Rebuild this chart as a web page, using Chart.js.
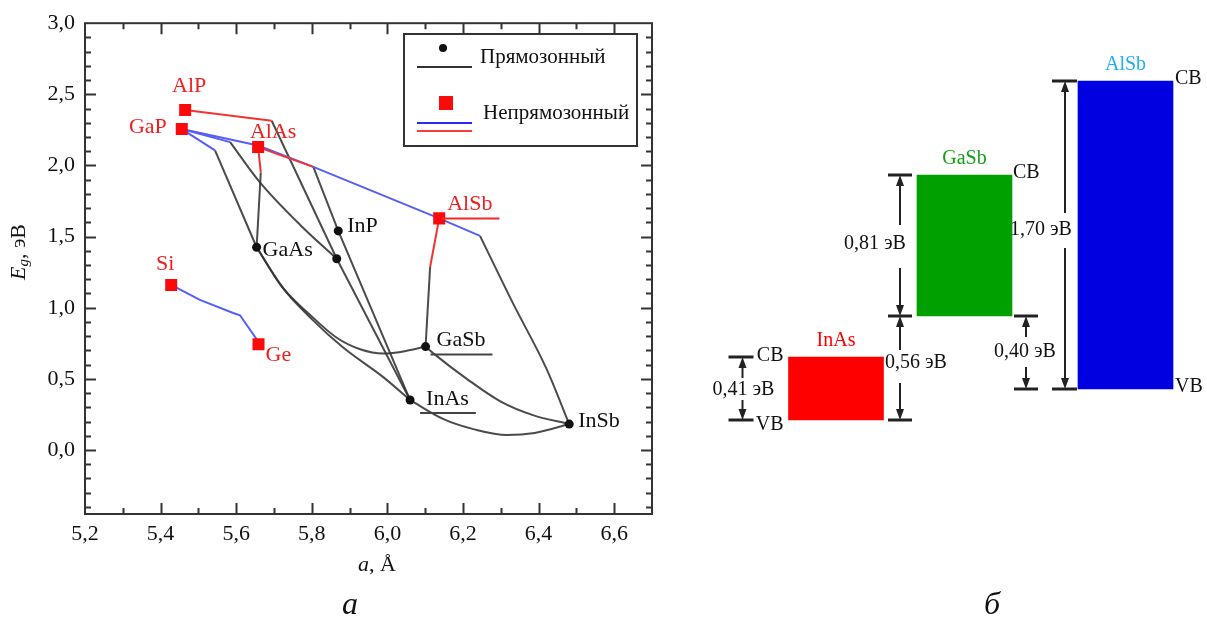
<!DOCTYPE html>
<html>
<head>
<meta charset="utf-8">
<script src="https://cdn.jsdelivr.net/npm/chart.js@4.4.1/dist/chart.umd.min.js"></script>
<style>
  body { margin: 0; background: #fff; width: 1207px; height: 621px; position: relative; overflow: hidden; }
  #gapChart { position: absolute; left: 0; top: 0; }
  #bandChart { position: absolute; left: 700px; top: 0; }
</style>
</head>
<body>
<canvas id="gapChart" width="700" height="621"></canvas>
<canvas id="bandChart" width="507" height="621"></canvas>
<script>
// ===== (а) Eg от постоянной решётки =====
const xTicks = [5.2, 5.4, 5.6, 5.8, 6.0, 6.2, 6.4, 6.6];
const yTicks = [0.0, 0.5, 1.0, 1.5, 2.0, 2.5, 3.0];

// прямозонные (чёрные точки)
const directNames = ['GaAs', 'InP', '', 'GaSb', 'InAs', 'InSb'];
const directA  = [5.654, 5.870, 5.866, 6.101, 6.060, 6.481];
const directEg = [1.425, 1.540, 1.344, 0.727, 0.351, 0.182];

// непрямозонные (красные квадраты)
const indirectNames = ['AlP', 'GaP', 'AlAs', 'AlSb', 'Si', 'Ge'];
const indirectA  = [5.465, 5.456, 5.658, 6.137, 5.428, 5.659];
const indirectEg = [2.390, 2.256, 2.129, 1.628, 1.160, 0.743];

// линии сплавов, пары [a, Eg]
const blueGaPAlSb = [[5.456, 2.256], [5.658, 2.140], [5.804, 1.990], [6.137, 1.628], [6.245, 1.505]];
const blueSiGe    = [[5.428, 1.160], [5.504, 1.055], [5.592, 0.963], [5.610, 0.947], [5.654, 0.778], [5.659, 0.743]];
const blueGaPGaAs = [[5.456, 2.256], [5.544, 2.106]];
const blueGaPInP  = [[5.456, 2.256], [5.584, 2.164]];

const redAlP      = [[5.465, 2.390], [5.694, 2.314]];
const redAlAsAlSb = [[5.658, 2.129], [5.804, 1.990]];
const redAlAsGaAs = [[5.658, 2.129], [5.665, 1.951]];
const redAlSbGaSb = [[6.137, 1.628], [6.113, 1.286]];

const blackAlPInP   = [[5.694, 2.314], [5.866, 1.344]];
const blackAlAsInAs = [[5.804, 1.990], [5.870, 1.540], [6.060, 0.351]];
const blackAlAsGaAs = [[5.665, 1.951], [5.654, 1.425]];
const blackGaPGaAs  = [[5.544, 2.106], [5.654, 1.425]];
const blackGaPInP   = [[5.584, 2.164], [5.660, 1.890], [5.770, 1.580], [5.866, 1.344]];
const blackInPInAs  = [[5.866, 1.344], [6.060, 0.351]];
const blackGaAsGaSb = [[5.654, 1.425], [5.725, 1.136], [5.795, 0.951], [5.866, 0.789], [5.928, 0.708], [5.989, 0.678], [6.051, 0.697], [6.101, 0.727]];
const blackGaAsInAs = [[5.654, 1.425], [5.720, 1.150], [5.800, 0.920], [5.883, 0.720], [5.989, 0.512], [6.060, 0.351]];
const blackAlSbGaSb = [[6.113, 1.286], [6.101, 0.727]];
const blackAlSbInSb = [[6.245, 1.505], [6.332, 1.032], [6.421, 0.570], [6.481, 0.182]];
const blackGaSbInSb = [[6.101, 0.727], [6.125, 0.672], [6.210, 0.500], [6.300, 0.340], [6.385, 0.245], [6.481, 0.182]];
const blackInAsInSb = [[6.060, 0.351], [6.150, 0.215], [6.230, 0.145], [6.316, 0.105], [6.390, 0.120], [6.481, 0.182]];

// ===== (б) зонная схема InAs / GaSb / AlSb (условные единицы схемы) =====
const bandNames = ['InAs', 'GaSb', 'AlSb'];
const bandPos   = [1.36, 2.645, 4.255];
const bandVB    = [2.01, 3.05, 2.32];
const bandCB    = [2.64, 4.46, 5.40];
const gapText   = ['0,41 эВ', '0,81 эВ', '1,70 эВ'];
const offsetText = ['0,56 эВ', '0,40 эВ'];

const FONT = 'Liberation Serif';
const BLACK = 'rgba(50,50,50,0.88)';
const BLUE = 'rgb(85,95,245)';
const RED = 'rgb(245,50,50)';

const pts = arr => arr.map(p => ({ x: p[0], y: p[1] }));
function path(arr, color, curved) {
    return {
        data: pts(arr), showLine: true, borderColor: color, borderWidth: 2,
        pointRadius: 0, tension: curved ? 0.4 : 0,
        cubicInterpolationMode: curved ? 'monotone' : 'default'
    };
}

function drawText(ctx, s, x, y, color, align, size, style) {
    ctx.font = (style || '') + ' ' + (size || 22) + 'px "' + FONT + '"';
    ctx.fillStyle = color || '#111';
    ctx.textAlign = align || 'left';
    ctx.textBaseline = 'middle';
    ctx.fillText(s, x, y);
    return ctx.measureText(s).width;
}

// подписи точек: [dx, dy, выравнивание, подчёркивание]
const labelPlace = {
    AlP: [4, -24, 'center'], GaP: [-15, -2, 'right'], AlAs: [15, -15, 'center'],
    AlSb: [8, -14, 'left', true], Si: [-6, -21, 'center'], Ge: [7, 11, 'left'],
    GaAs: [6, 3, 'left'], InP: [9, -5, 'left'], GaSb: [11, -6, 'left', true],
    InAs: [16, -1, 'left', true], InSb: [9, -3, 'left']
};

const gapDecor = {
    id: 'gapDecor',
    afterDatasetsDraw(chart) {
        const { ctx, chartArea: a, scales: { x, y } } = chart;
        ctx.save();
        // рамка и внутренние засечки
        ctx.strokeStyle = '#333';
        ctx.lineWidth = 2;
        ctx.strokeRect(a.left, a.top, a.right - a.left, a.bottom - a.top);
        ctx.beginPath();
        for (let i = 53; i <= 66; i++) {
            const px = Math.round(x.getPixelForValue(i / 10)) + 0.5;
            const len = i % 2 === 0 ? 11 : 6;
            ctx.moveTo(px, a.bottom); ctx.lineTo(px, a.bottom - len);
            ctx.moveTo(px, a.top); ctx.lineTo(px, a.top + len);
        }
        for (let i = -4; i <= 29; i++) {
            const py = Math.round(y.getPixelForValue(i / 10)) + 0.5;
            const len = i % 5 === 0 ? 11 : 6;
            ctx.moveTo(a.left, py); ctx.lineTo(a.left + len, py);
            ctx.moveTo(a.right, py); ctx.lineTo(a.right - len, py);
        }
        ctx.stroke();

        // подписи соединений
        const put = (name, a0, e0, color) => {
            const p = labelPlace[name];
            if (!p) return;
            const px = x.getPixelForValue(a0) + p[0];
            const py = y.getPixelForValue(e0) + p[1];
            const w = drawText(ctx, name, px, py, color, p[2], 22);
            if (p[3]) {
                const left = p[2] === 'left' ? px : px - w / 2;
                ctx.strokeStyle = color === '#111' ? '#444' : 'rgb(240,40,40)';
                ctx.lineWidth = 2;
                ctx.beginPath();
                ctx.moveTo(left - 6, py + 14); ctx.lineTo(left + w + 7, py + 14);
                ctx.stroke();
            }
        };
        directNames.forEach((n, i) => put(n, directA[i], directEg[i], '#111'));
        indirectNames.forEach((n, i) => put(n, indirectA[i], indirectEg[i], 'rgb(240,30,30)'));

        // легенда
        ctx.strokeStyle = '#333';
        ctx.lineWidth = 2;
        ctx.strokeRect(404, 34, 233, 112);
        ctx.fillStyle = '#111';
        ctx.beginPath(); ctx.arc(443, 48, 4, 0, Math.PI * 2); ctx.fill();
        ctx.strokeStyle = '#333';
        ctx.beginPath(); ctx.moveTo(417, 67); ctx.lineTo(472, 67); ctx.stroke();
        drawText(ctx, 'Прямозонный', 480, 57, '#111', 'left', 21);
        ctx.fillStyle = 'rgb(250,10,10)';
        ctx.fillRect(439, 96, 14, 14);
        ctx.strokeStyle = 'rgb(40,40,250)';
        ctx.beginPath(); ctx.moveTo(417, 123); ctx.lineTo(472, 123); ctx.stroke();
        ctx.strokeStyle = 'rgb(250,60,60)';
        ctx.beginPath(); ctx.moveTo(417, 131); ctx.lineTo(472, 131); ctx.stroke();
        drawText(ctx, 'Непрямозонный', 483, 113, '#111', 'left', 21);

        // подписи осей
        let w1 = drawText(ctx, 'a', 0, -100, '#111', 'left', 22, 'italic');
        ctx.font = '22px "' + FONT + '"';
        let w2 = ctx.measureText(', Å').width;
        let x0 = 377 - (w1 + w2) / 2;
        drawText(ctx, 'a', x0, 565, '#111', 'left', 22, 'italic');
        drawText(ctx, ', Å', x0 + w1, 565, '#111', 'left', 22);

        ctx.translate(19, 252);
        ctx.rotate(-Math.PI / 2);
        ctx.font = 'italic 22px "' + FONT + '"';
        const wE = ctx.measureText('E').width;
        ctx.font = 'italic 15px "' + FONT + '"';
        const wg = ctx.measureText('g').width;
        ctx.font = '22px "' + FONT + '"';
        const wR = ctx.measureText(', эВ').width;
        x0 = -(wE + wg + wR) / 2;
        drawText(ctx, 'E', x0, 0, '#111', 'left', 22, 'italic');
        drawText(ctx, 'g', x0 + wE, 5, '#111', 'left', 15, 'italic');
        drawText(ctx, ', эВ', x0 + wE + wg, 0, '#111', 'left', 22);
        ctx.restore();

        ctx.save();
        drawText(ctx, 'а', 350, 606, '#111', 'center', 32, 'italic');
        ctx.restore();
    }
};

const tickFont = { family: FONT, size: 22 };
const fmt = v => Number(v).toFixed(1).replace('.', ',');

new Chart(document.getElementById('gapChart'), {
    type: 'scatter',
    data: {
        datasets: [
            {
                data: indirectA.map((a, i) => ({ x: a, y: indirectEg[i] })),
                pointStyle: 'rect', pointRadius: 8.5, pointBackgroundColor: 'rgb(250,10,10)',
                pointBorderWidth: 0, showLine: false
            },
            {
                data: directA.map((a, i) => ({ x: a, y: directEg[i] })),
                pointStyle: 'circle', pointRadius: 4.5, pointBackgroundColor: '#111',
                pointBorderWidth: 0, showLine: false
            },
            path(redAlP, RED),
            path(redAlAsAlSb, RED),
            path(redAlAsGaAs, RED),
            path(redAlSbGaSb, RED),
            path(blueGaPAlSb, BLUE),
            path(blueSiGe, BLUE),
            path(blueGaPGaAs, BLUE),
            path(blueGaPInP, BLUE),
            path(blackAlPInP, BLACK),
            path(blackAlAsInAs, BLACK),
            path(blackAlAsGaAs, BLACK),
            path(blackGaPGaAs, BLACK),
            path(blackGaPInP, BLACK, true),
            path(blackInPInAs, BLACK),
            path(blackGaAsGaSb, BLACK, true),
            path(blackGaAsInAs, BLACK, true),
            path(blackAlSbGaSb, BLACK),
            path(blackAlSbInSb, BLACK, true),
            path(blackGaSbInSb, BLACK, true),
            path(blackInAsInSb, BLACK, true)
        ]
    },
    options: {
        responsive: false,
        animation: false,
        layout: { padding: { top: 16, right: 48, left: 0, bottom: 0 } },
        plugins: { legend: { display: false }, tooltip: { enabled: false } },
        scales: {
            x: {
                type: 'linear', min: 5.2, max: 6.7,
                grid: { display: false, drawTicks: false },
                border: { display: false },
                afterBuildTicks: s => { s.ticks = xTicks.map(v => ({ value: v })); },
                afterFit: s => { s.height = 107; },
                ticks: { padding: 7, maxRotation: 0, autoSkip: false, color: '#111', font: tickFont, callback: fmt }
            },
            y: {
                type: 'linear', min: -0.45, max: 3.0,
                grid: { display: false, drawTicks: false },
                border: { display: false },
                afterBuildTicks: s => { s.ticks = yTicks.map(v => ({ value: v })); },
                afterFit: s => { s.width = 85; },
                ticks: { padding: 10, autoSkip: false, color: '#111', font: tickFont, callback: fmt }
            }
        }
    },
    plugins: [gapDecor]
});

// ===== (б) =====
const bandColors = ['rgb(255,0,0)', 'rgb(0,160,0)', 'rgb(0,0,225)'];
const nameColors = ['rgb(255,0,0)', 'rgb(20,160,20)', 'rgb(30,175,240)'];

function arrowV(ctx, x, y1, y2, gapTop, gapBot) {
    const dir = y2 > y1 ? 1 : -1;
    const head = 11, hw = 4;
    ctx.lineWidth = 2;
    ctx.beginPath();
    if (gapTop != null) {
        ctx.moveTo(x, y1 + dir * head); ctx.lineTo(x, gapTop);
        ctx.moveTo(x, gapBot); ctx.lineTo(x, y2 - dir * head);
    } else {
        ctx.moveTo(x, y1 + dir * head); ctx.lineTo(x, y2 - dir * head);
    }
    ctx.stroke();
    ctx.beginPath();
    ctx.moveTo(x, y1); ctx.lineTo(x - hw, y1 + dir * head); ctx.lineTo(x + hw, y1 + dir * head); ctx.closePath();
    ctx.moveTo(x, y2); ctx.lineTo(x - hw, y2 - dir * head); ctx.lineTo(x + hw, y2 - dir * head); ctx.closePath();
    ctx.fill();
}
function bracket(ctx, x, y, l, r) {
    ctx.lineWidth = 3;
    ctx.beginPath(); ctx.moveTo(x - l, y); ctx.lineTo(x + r, y); ctx.stroke();
}

const bandDecor = {
    id: 'bandDecor',
    afterDatasetsDraw(chart) {
        const { ctx, scales: { x, y } } = chart;
        const half = 47.5;
        const cx = bandPos.map(v => x.getPixelForValue(v));
        const vb = bandVB.map(v => y.getPixelForValue(v));
        const cb = bandCB.map(v => y.getPixelForValue(v));
        ctx.save();
        bandNames.forEach((n, i) => drawText(ctx, n, cx[i], cb[i] - 16, nameColors[i], 'center', 20));

        // CB / VB
        drawText(ctx, 'CB', cx[0] - half - 5, cb[0] - 1, '#111', 'right', 20);
        drawText(ctx, 'VB', cx[0] - half - 5, vb[0] + 5, '#111', 'right', 20);
        drawText(ctx, 'CB', cx[1] + half + 1, cb[1] - 2, '#111', 'left', 20);
        drawText(ctx, 'CB', cx[2] + half + 2, cb[2] - 2, '#111', 'left', 20);
        drawText(ctx, 'VB', cx[2] + half + 2, vb[2] - 2, '#111', 'left', 20);

        ctx.strokeStyle = '#222';
        ctx.fillStyle = '#222';
        // 0,41 эВ
        let ax = cx[0] - half - 46;
        bracket(ctx, ax, cb[0], 14, 11); bracket(ctx, ax, vb[0], 14, 11);
        arrowV(ctx, ax, cb[0], vb[0], 378, 400);
        // 0,81 эВ
        ax = cx[1] - half - 17;
        bracket(ctx, ax, cb[1], 12, 12); bracket(ctx, ax, vb[1], 12, 12); bracket(ctx, ax, vb[0], 12, 12);
        arrowV(ctx, ax, cb[1], vb[1], 225, 268);
        // 0,56 эВ
        arrowV(ctx, ax, vb[1], vb[0], 350, 383);
        // 1,70 эВ
        const bx = cx[2] - half - 13;
        bracket(ctx, bx, cb[2], 13, 12); bracket(ctx, bx, vb[2], 13, 12);
        arrowV(ctx, bx, cb[2], vb[2], 213, 248);
        // 0,40 эВ
        const dx = cx[1] + half + 14;
        bracket(ctx, dx, vb[1], 12, 12); bracket(ctx, dx, vb[2], 12, 12);
        arrowV(ctx, dx, vb[1], vb[2], 337, 367);

        drawText(ctx, gapText[0], cx[0] - half - 45, (cb[0] + vb[0]) / 2 + 1, '#111', 'center', 20);
        drawText(ctx, gapText[1], cx[1] - half - 42, (cb[1] + vb[1]) / 2 - 2, '#111', 'center', 20);
        drawText(ctx, gapText[2], cx[2] - half - 37, (cb[2] + vb[2]) / 2 - 5, '#111', 'center', 20);
        drawText(ctx, offsetText[0], cx[1] - half - 32, vb[1] + 47, '#111', 'left', 20);
        drawText(ctx, offsetText[1], dx - 1, (vb[1] + vb[2]) / 2 - 1, '#111', 'center', 20);

        drawText(ctx, 'б', 292, 606, '#111', 'center', 32, 'italic');
        ctx.restore();
    }
};

new Chart(document.getElementById('bandChart'), {
    type: 'bar',
    data: {
        datasets: [{
            data: bandNames.map((n, i) => ({ x: bandPos[i], y: [bandVB[i], bandCB[i]] })),
            backgroundColor: bandColors,
            borderWidth: 0,
            barThickness: 95
        }]
    },
    options: {
        responsive: false,
        animation: false,
        layout: { padding: 0 },
        plugins: { legend: { display: false }, tooltip: { enabled: false } },
        scales: {
            x: { type: 'linear', display: false, offset: false, min: 0, max: 5.07 },
            y: { display: false, min: 0, max: 6.21 }
        }
    },
    plugins: [bandDecor]
});
</script>
</body>
</html>
